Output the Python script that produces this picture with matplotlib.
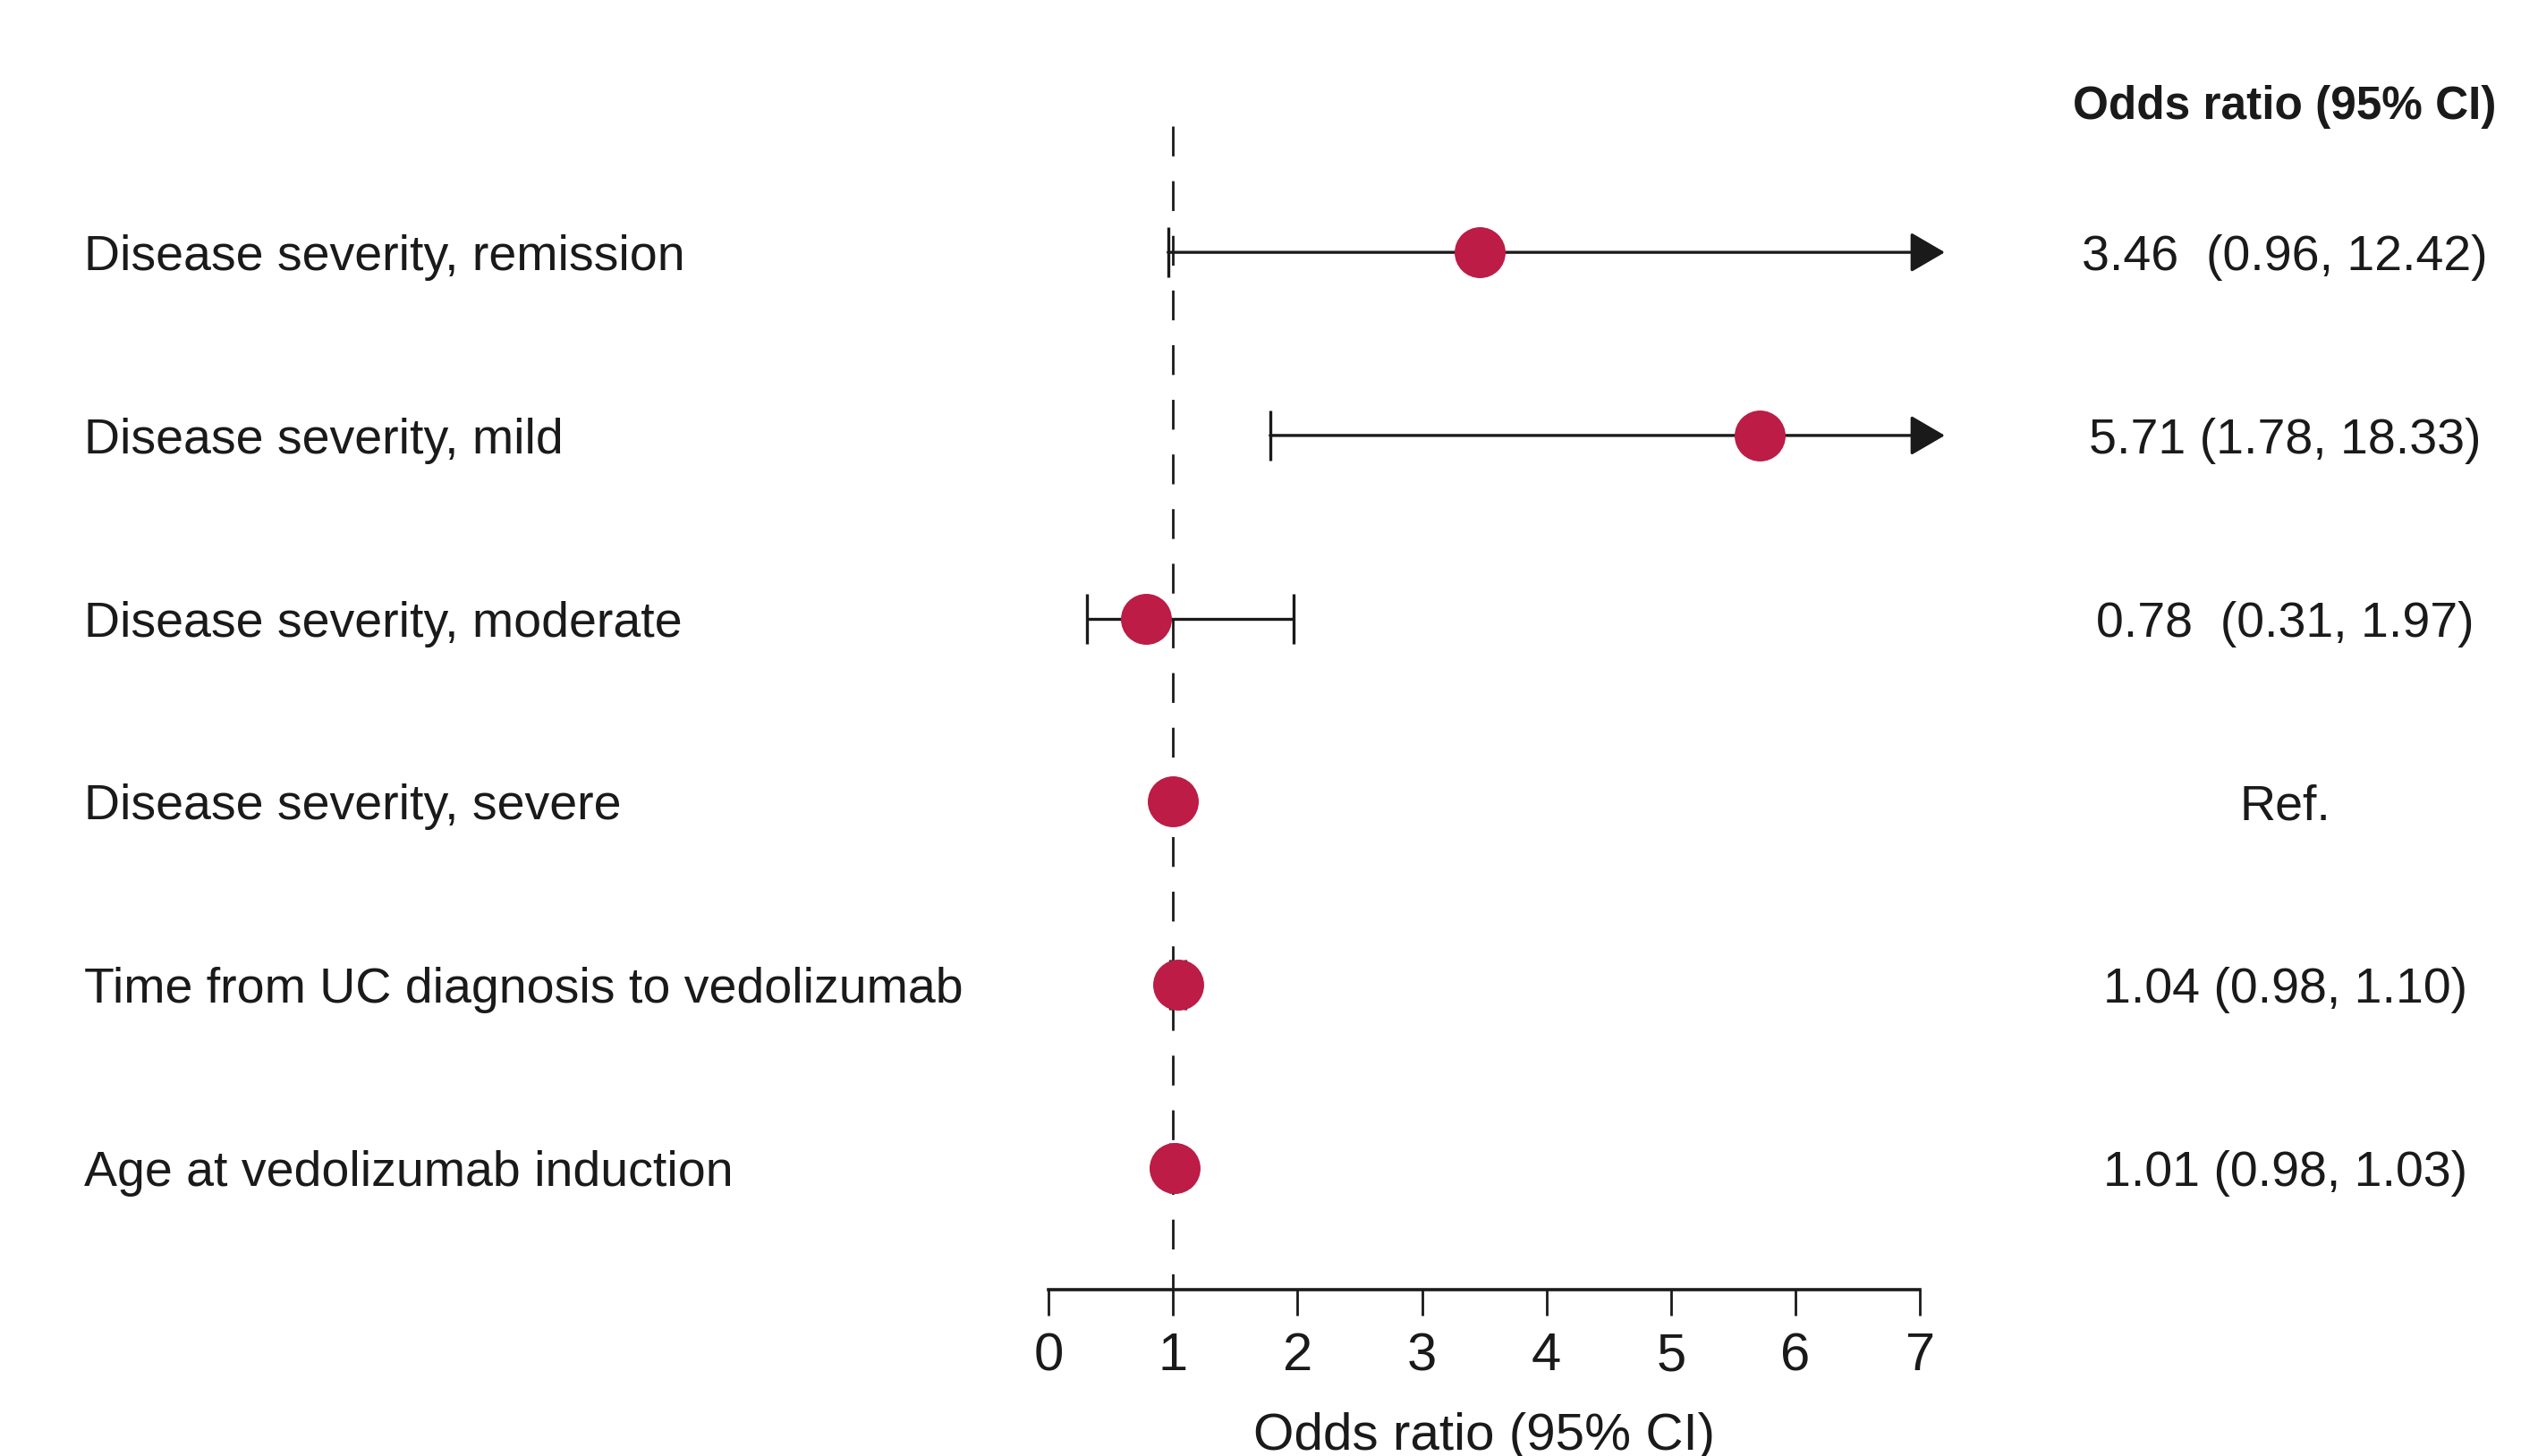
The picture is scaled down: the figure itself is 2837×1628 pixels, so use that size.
import numpy as np
import matplotlib.pyplot as plt
import matplotlib.transforms as mtransforms

plt.rcParams['font.family'] = ['Liberation Sans', 'DejaVu Sans']

# model terms, top to bottom
labels = ["Disease severity, remission", "Disease severity, mild",
          "Disease severity, moderate", "Disease severity, severe",
          "Time from UC diagnosis to vedolizumab", "Age at vedolizumab induction"]
odds = [3.46, 5.71, 0.78, 1.00, 1.04, 1.01]
ci_low = [0.96, 1.78, 0.31, np.nan, 0.98, 0.98]
ci_high = [12.42, 18.33, 1.97, np.nan, 1.10, 1.03]
or_text = ["3.46  (0.96, 12.42)", "5.71 (1.78, 18.33)", "0.78  (0.31, 1.97)",
           "Ref.", "1.04 (0.98, 1.10)", "1.01 (0.98, 1.03)"]
xticks = [0, 1, 2, 3, 4, 5, 6, 7]

xmax = 7           # axis end; CIs beyond this get an arrow
arrow_tip = 7.2
ink = '#1a1a1a'
red = '#bc1c45'
fs = 40

fig = plt.figure(figsize=(28.37, 16.28), dpi=100)
ax = fig.add_axes([0.3641, 0.1143, 0.4169, 0.8256])
ax.set_xlim(-1, 7.5)
ax.set_ylim(5.664, -0.9)

rows = np.arange(len(labels))

# reference line at OR = 1
ax.plot([1, 1], [-0.688, 5.664], color=ink, lw=2.0, dashes=(12, 10), zorder=1)

for y, o, lo, hi in zip(rows, odds, ci_low, ci_high):
    if np.isnan(lo):
        continue
    if hi > xmax:
        ax.annotate('', xy=(arrow_tip, y), xytext=(lo, y),
                    arrowprops=dict(arrowstyle='-|>,head_length=24,head_width=14',
                                    mutation_scale=1, lw=2.4, color=ink,
                                    shrinkA=0, shrinkB=0), zorder=2)
        ax.plot([lo], [y], marker='|', ms=41, mew=2.4, color=ink, zorder=2)
    else:
        ax.errorbar([o], [y], xerr=[[o - lo], [hi - o]], fmt='none', ecolor=ink,
                    elinewidth=2.4, capsize=20, capthick=2.4, zorder=2)

ax.plot(odds, rows, 'o', ms=41, color=red, mec='none', zorder=3)

# axis styling
for s in ['left', 'right', 'top']:
    ax.spines[s].set_visible(False)
ax.spines['bottom'].set_bounds(0, 7)
ax.spines['bottom'].set_linewidth(2.6)
ax.spines['bottom'].set_color(ink)
ax.set_yticks([])
ax.set_xticks(xticks)
ax.tick_params(axis='x', direction='out', length=21, width=2.0, color=ink,
               labelsize=43, labelcolor=ink, pad=13)
ax.patch.set_visible(False)

# row labels and OR column
trans = mtransforms.blended_transform_factory(fig.transFigure, ax.transData)
for y, lab, t in zip(rows, labels, or_text):
    fig.text(0.0331, y, lab, transform=trans, ha='left', va='center_baseline',
             fontsize=fs, color=ink)
    fig.text(0.9003, y, t, transform=trans, ha='center', va='center_baseline',
             fontsize=fs, color=ink)
fig.text(0.9003, -0.82, "Odds ratio (95% CI)", transform=trans, ha='center',
         va='center_baseline', fontsize=37, fontweight='bold', color=ink)

xtrans = mtransforms.blended_transform_factory(ax.transData, fig.transFigure)
ax.text(3.5, 0.004, "Odds ratio (95% CI)", transform=xtrans, ha='center',
        va='baseline', fontsize=42, color=ink)

fig.savefig('out.png', dpi=100)
